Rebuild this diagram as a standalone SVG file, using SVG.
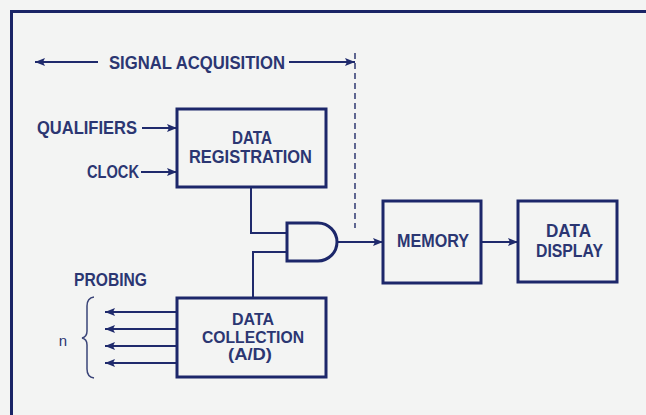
<svg xmlns="http://www.w3.org/2000/svg" width="646" height="415" viewBox="0 0 646 415">
<defs>
<style>
.t{font-family:"Liberation Sans",Arial,sans-serif;font-weight:bold;font-size:17.5px;fill:#2b3672;text-anchor:middle}
.c{font-size:15.6px}
.box{fill:none;stroke:#1c276a;stroke-width:3}
.ln{fill:none;stroke:#1f2a6c;stroke-width:2}
.ar{fill:none;stroke:#1f2a6c;stroke-width:2;marker-end:url(#ah)}
</style>
<marker id="ah" viewBox="0 0 10 8" refX="10" refY="4" markerWidth="10" markerHeight="8" markerUnits="userSpaceOnUse" orient="auto">
<path d="M0,0 L10,4 L0,8 L2,4 Z" fill="#1f2a6c"/>
</marker>
</defs>
<rect width="646" height="415" fill="#f3f4f3"/>
<g id="frame">
<path d="M10,11.5 H646 M11.5,10 V415" fill="none" stroke="#1a2466" stroke-width="3"/>
</g>
<g id="connectors">
<path class="ar" d="M98,62 H35"/>
<path class="ar" d="M289,62 H355"/>
<path d="M355,53 V228" fill="none" stroke="#3a4478" stroke-width="1.6" stroke-dasharray="6,4"/>
<path class="ar" d="M142,128 H177"/>
<path class="ar" d="M141,172 H177"/>
<path class="ln" d="M251,188 V233 H287"/>
<path class="ln" d="M287,252 H253 V297"/>
<path class="ar" d="M338,242 H383"/>
<path class="ar" d="M481,242 H518"/>
<path class="ar" d="M177,312 H105"/>
<path class="ar" d="M177,329 H105"/>
<path class="ar" d="M177,346 H105"/>
<path class="ar" d="M177,363 H105"/>
</g>
<g id="signal-acquisition">
<text class="t" x="197" y="68.5" textLength="176" lengthAdjust="spacingAndGlyphs">SIGNAL ACQUISITION</text>
</g>
<g id="qualifiers">
<text class="t" x="87" y="133.5" textLength="100" lengthAdjust="spacingAndGlyphs">QUALIFIERS</text>
</g>
<g id="clock">
<text class="t" x="113" y="177.5" textLength="52" lengthAdjust="spacingAndGlyphs">CLOCK</text>
</g>
<g id="data-registration">
<rect class="box" x="177" y="109" width="149" height="78"/>
<text class="t" x="252" y="143.5" textLength="40" lengthAdjust="spacingAndGlyphs">DATA</text>
<text class="t" x="250.5" y="163" textLength="123" lengthAdjust="spacingAndGlyphs">REGISTRATION</text>
</g>
<g id="and-gate">
<path d="M287,223 H318 A19,19 0 0 1 318,261 H287 Z" fill="none" stroke="#1c276a" stroke-width="3"/>
</g>
<g id="memory">
<rect class="box" x="383" y="201" width="98" height="82"/>
<text class="t" x="433" y="246.5" textLength="72" lengthAdjust="spacingAndGlyphs">MEMORY</text>
</g>
<g id="data-display">
<rect class="box" x="518" y="201" width="99" height="81"/>
<text class="t" x="568.5" y="237" textLength="45" lengthAdjust="spacingAndGlyphs">DATA</text>
<text class="t" x="569.5" y="256.5" textLength="67" lengthAdjust="spacingAndGlyphs">DISPLAY</text>
</g>
<g id="probing">
<text class="t" x="110.5" y="285.5" textLength="73" lengthAdjust="spacingAndGlyphs">PROBING</text>
<path d="M94,297 Q87,298 87,306 V331 Q87,337 82,338 Q87,339 87,345 V369 Q87,377 94,378" fill="none" stroke="#3a4478" stroke-width="1.5"/>
<text class="t" x="63" y="346" style="font-weight:normal;font-size:15px">n</text>
</g>
<g id="data-collection">
<rect class="box" x="177" y="298" width="149" height="79"/>
<text class="t c" x="253" y="325" textLength="42" lengthAdjust="spacingAndGlyphs">DATA</text>
<text class="t c" x="253" y="342.5" textLength="102" lengthAdjust="spacingAndGlyphs">COLLECTION</text>
<text class="t c" x="250" y="360" textLength="44" lengthAdjust="spacingAndGlyphs">(A/D)</text>
</g>
</svg>
